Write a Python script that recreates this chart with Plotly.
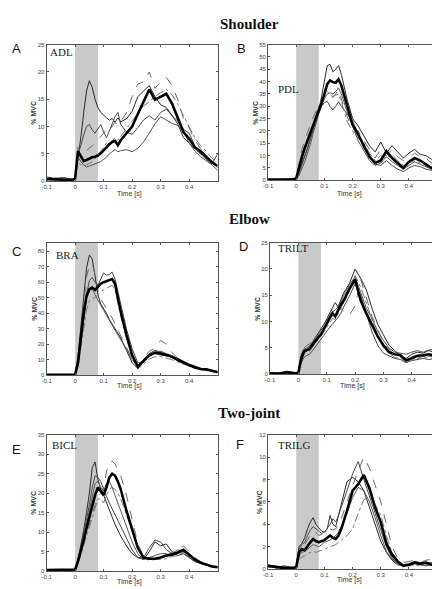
import plotly.graph_objects as go

# ---------------- data ----------------
T = [-0.10, -0.07, -0.04, -0.01, 0.00,
     0.01, 0.02, 0.03, 0.04, 0.05, 0.06, 0.07, 0.08, 0.09, 0.10, 0.11, 0.12, 0.13, 0.14, 0.15, 0.16,
     0.18, 0.20, 0.22, 0.24, 0.26, 0.28, 0.30, 0.32, 0.34, 0.36, 0.38, 0.40, 0.42, 0.44, 0.46, 0.48, 0.50]

X_TICKS = [-0.1, 0.0, 0.1, 0.2, 0.3, 0.4]
X_TICK_LABELS = ["-0.1", "0", "0.1", "0.2", "0.3", "0.4"]
PULSE = [0.0, 0.08]  # shaded interval (s)

SECTIONS = ["Shoulder", "Elbow", "Two-joint"]
LETTERS = ["A", "B", "C", "D", "E", "F"]
MUSCLES = ["ADL", "PDL", "BRA", "TRILT", "BICL", "TRILG"]
Y_MAX = [25, 55, 85.5, 25, 35, 12]
Y_STEP = [5, 5, 10, 5, 5, 2]
Y_TOP_TICK = [25, 55, 80, 25, 35, 12]

# --- A: ADL ---
ADL_mean = [0.4, 0.3, 0.2, 0.2, 0.5,
            5.5, 4.6, 3.7, 3.9, 4.2, 4.4, 4.5, 4.7, 5.1, 5.6, 6.2, 6.8, 7.2, 7.4, 6.6, 7.5,
            8.8, 10.0, 12.3, 14.4, 16.8, 14.9, 15.4, 16.0, 14.2, 11.5, 9.0, 7.8, 6.2, 5.5, 4.5, 3.5, 2.8]
ADL_s1 = [0.8, 0.5, 0.7, 0.3, 0.4,
          4.0, 8.0, 12.5, 16.5, 18.4, 17.2, 15.0, 13.5, 12.6, 12.0, 11.6, 11.2, 11.5, 10.8, 11.6, 10.9,
          11.4, 12.8, 15.5, 16.5, 17.5, 15.5, 14.0, 13.5, 12.0, 10.5, 8.0, 7.0, 6.0, 5.0, 4.5, 3.5, 2.5]
ADL_s2 = [0.3, 0.4, 0.2, 0.3, 0.5,
          6.2, 5.5, 5.2, 5.6, 6.0, 6.5, 7.0, 7.6, 8.0, 8.8, 9.5, 9.2, 10.0, 10.8, 10.2, 11.0,
          12.5, 15.5, 17.8, 18.2, 20.0, 17.0, 18.2, 19.0, 17.5, 15.0, 11.5, 9.8, 7.5, 6.0, 4.2, 3.0, 2.2]
ADL_s3 = [0.2, 0.6, 0.3, 0.4, 0.5,
          5.0, 6.5, 8.5, 10.0, 10.4, 9.4, 8.8, 9.6, 10.4, 9.0, 8.0, 9.2, 10.6, 11.8, 12.6, 10.4,
          9.0, 8.6, 9.8, 11.2, 12.0, 11.2, 12.6, 13.2, 12.0, 11.0, 9.5, 8.8, 6.5, 5.0, 4.0, 3.2, 5.0]
ADL_s4 = [0.5, 0.3, 0.4, 0.2, 0.3,
          3.5, 3.0, 2.8, 3.0, 3.3, 3.6, 4.2, 4.8, 5.6, 6.2, 7.0, 6.6, 7.4, 8.0, 7.5, 8.2,
          9.5, 11.0, 12.5, 13.8, 14.5, 15.5, 16.2, 16.8, 15.8, 14.2, 12.0, 10.0, 8.0, 6.5, 5.5, 4.2, 3.5]
ADL_s5 = [0.3, 0.2, 0.4, 0.3, 0.3,
          4.5, 3.6, 3.0, 2.6, 2.8, 3.0, 3.2, 3.4, 3.6, 4.0, 4.4, 5.0, 5.4, 5.8, 5.4, 5.6,
          5.8, 5.4, 6.0, 7.2, 8.8, 10.5, 11.8, 11.2, 10.6, 10.2, 9.2, 7.0, 5.5, 4.5, 3.8, 3.0, 2.0]

# --- B: PDL ---
PDL_mean = [0.3, 0.3, 0.2, 0.3, 0.8,
            5.5, 9.5, 13.0, 16.0, 19.0, 22.0, 25.0, 28.0, 31.5, 35.0, 39.0, 40.5, 39.8, 39.5, 41.0, 38.5,
            30.0, 22.5, 18.5, 14.0, 9.5, 7.0, 8.0, 11.8, 9.0, 7.0, 5.0, 7.5, 9.0, 8.0, 6.5, 5.0, 4.8]
PDL_s1 = [0.2, 0.3, 0.3, 0.2, 0.5,
          3.5, 7.0, 10.0, 13.0, 16.5, 20.0, 24.0, 28.0, 34.0, 40.5, 46.5, 47.0, 44.0, 45.0, 46.5, 43.0,
          33.0, 25.0, 22.0, 18.0, 14.0, 11.5, 15.5, 11.0, 14.0, 11.5, 9.0, 11.0, 12.5, 10.5, 10.0, 8.5, 7.5]
PDL_s2 = [0.3, 0.2, 0.4, 0.3, 1.0,
          7.0, 12.5, 16.0, 19.5, 22.5, 25.5, 28.0, 30.5, 33.0, 34.5, 35.5, 34.5, 33.5, 35.0, 36.8, 33.0,
          26.0, 21.0, 20.0, 16.0, 12.5, 9.0, 12.5, 10.0, 12.5, 9.5, 8.0, 9.0, 11.0, 9.5, 9.0, 7.0, 6.5]
PDL_s3 = [0.2, 0.3, 0.2, 0.2, 0.4,
          3.0, 6.0, 9.5, 13.0, 17.0, 21.0, 24.5, 27.5, 30.0, 31.5, 32.0, 30.0, 28.5, 30.0, 31.8, 30.0,
          27.0, 24.0, 19.0, 13.0, 10.0, 6.5, 6.0, 8.0, 6.0, 4.5, 3.5, 5.0, 6.0, 5.5, 4.5, 4.0, 3.0]
PDL_s4 = [0.3, 0.4, 0.3, 0.3, 0.7,
          5.0, 9.0, 12.5, 15.5, 19.0, 23.0, 27.0, 30.0, 32.5, 34.0, 36.0, 35.0, 34.0, 34.5, 35.0, 32.0,
          24.0, 20.0, 17.0, 15.0, 11.0, 8.0, 10.0, 9.0, 10.5, 8.0, 6.0, 7.0, 8.0, 7.0, 6.0, 5.0, 4.0]
PDL_s5 = [0.2, 0.2, 0.3, 0.2, 0.3,
          2.0, 4.5, 7.5, 11.0, 14.5, 19.0, 23.5, 27.0, 30.0, 33.0, 35.0, 35.5, 35.0, 36.0, 37.5, 35.0,
          28.0, 22.0, 16.0, 12.0, 8.0, 6.0, 7.0, 9.5, 7.5, 6.0, 4.5, 6.0, 7.5, 6.5, 5.5, 4.5, 3.5]

# --- C: BRA ---
BRA_mean = [0.3, 0.3, 0.3, 0.3, 0.5,
            8.0, 24.0, 40.0, 51.0, 55.5, 56.5, 55.0, 57.0, 59.0, 60.0, 60.5, 61.5, 62.0, 59.0, 50.0, 41.0,
            26.0, 13.0, 5.5, 9.5, 13.0, 14.5, 14.0, 13.0, 12.0, 10.0, 8.0, 6.5, 5.0, 4.0, 3.8, 3.0, 2.0]
BRA_s1 = [0.2, 0.3, 0.2, 0.2, 0.5,
          12.0, 32.0, 52.0, 69.0, 77.5, 75.0, 64.0, 52.0, 46.0, 43.0, 40.0, 36.0, 33.0, 30.0, 27.0, 24.0,
          16.0, 8.0, 4.5, 10.0, 14.0, 16.0, 15.0, 13.0, 11.0, 9.5, 7.5, 6.0, 5.0, 4.0, 3.5, 2.8, 2.0]
BRA_s2 = [0.3, 0.2, 0.3, 0.2, 0.4,
          10.0, 28.0, 47.0, 63.0, 71.0, 72.0, 65.0, 55.0, 49.0, 46.0, 43.0, 40.0, 37.0, 33.0, 29.0, 25.0,
          18.0, 11.0, 6.0, 11.0, 15.5, 17.5, 22.5, 20.0, 14.5, 11.0, 8.5, 6.5, 5.0, 4.5, 4.0, 3.0, 2.2]
BRA_s3 = [0.2, 0.2, 0.2, 0.3, 0.3,
          6.0, 20.0, 36.0, 52.0, 61.0, 63.0, 60.0, 58.0, 62.0, 66.0, 64.5, 65.0, 66.5, 62.0, 54.0, 46.0,
          30.0, 17.0, 8.0, 8.5, 12.0, 14.0, 13.0, 12.5, 12.0, 11.0, 9.0, 7.0, 6.0, 4.5, 4.0, 3.0, 2.0]
BRA_s4 = [0.3, 0.3, 0.2, 0.3, 0.4,
          5.0, 17.0, 31.0, 42.0, 48.0, 49.5, 50.0, 52.0, 54.0, 55.0, 56.0, 57.5, 58.0, 55.0, 46.0, 38.0,
          24.0, 12.0, 4.0, 7.0, 10.5, 12.0, 12.0, 11.0, 10.0, 8.5, 7.0, 5.5, 4.5, 3.5, 3.2, 2.5, 1.8]
BRA_s5 = [0.2, 0.3, 0.3, 0.2, 0.5,
          7.0, 22.0, 38.0, 50.0, 55.0, 55.5, 52.0, 48.0, 45.0, 42.0, 38.5, 35.0, 32.0, 29.0, 26.0, 23.0,
          17.0, 10.0, 6.0, 9.0, 12.5, 15.0, 15.5, 14.0, 12.5, 10.0, 8.5, 7.0, 5.5, 4.5, 3.5, 3.0, 2.5]

# --- D: TRILT ---
TRILT_mean = [0.2, 0.1, 0.4, 0.2, 0.3,
              3.0, 4.4, 4.6, 4.8, 5.6, 6.4, 7.0, 7.6, 8.6, 9.8, 10.8, 11.6, 11.0, 12.2, 13.2, 14.0,
              16.2, 18.0, 14.0, 11.5, 9.2, 7.2, 5.5, 4.2, 3.8, 3.6, 2.6, 3.0, 3.5, 3.6, 3.8, 3.5, 3.6]
TRILT_s1 = [0.3, 0.2, 0.5, 0.2, 0.3,
            2.5, 3.8, 4.5, 5.2, 6.0, 7.0, 7.8, 8.6, 9.5, 10.5, 11.6, 12.6, 13.6, 12.8, 14.2, 15.5,
            17.2, 20.0, 18.2, 16.0, 12.5, 9.5, 7.5, 5.5, 4.5, 3.5, 3.0, 3.8, 4.2, 4.0, 4.5, 4.2, 4.8]
TRILT_s2 = [0.2, 0.2, 0.3, 0.1, 0.3,
            3.5, 5.0, 5.5, 5.8, 6.5, 7.2, 7.6, 8.5, 9.2, 10.2, 11.0, 12.2, 12.8, 13.0, 12.5, 12.0,
            11.2, 13.0, 18.0, 14.5, 11.0, 8.5, 6.0, 4.8, 3.6, 3.2, 2.8, 3.2, 3.0, 3.4, 3.2, 3.0, 3.3]
TRILT_s3 = [0.1, 0.3, 0.2, 0.3, 0.2,
            2.2, 3.2, 3.6, 3.8, 4.5, 5.2, 5.8, 6.6, 7.4, 8.2, 8.8, 9.6, 10.2, 10.8, 11.6, 12.8,
            14.8, 17.2, 15.0, 11.5, 8.0, 5.5, 4.0, 3.5, 3.0, 2.8, 2.2, 2.6, 2.8, 3.0, 2.8, 3.0, 2.8]
TRILT_s4 = [0.2, 0.2, 0.3, 0.2, 0.3,
            3.0, 4.0, 4.2, 4.4, 5.2, 6.0, 6.6, 7.2, 8.0, 9.0, 9.8, 10.6, 10.4, 11.5, 12.4, 13.6,
            15.8, 18.8, 16.5, 13.5, 10.2, 7.2, 5.0, 4.0, 3.2, 3.0, 2.4, 2.8, 3.2, 3.0, 3.4, 3.2, 3.0]
TRILT_s5 = [0.3, 0.2, 0.2, 0.2, 0.4,
            3.8, 4.8, 5.0, 5.4, 6.2, 7.0, 7.8, 8.4, 9.0, 10.2, 11.0, 11.8, 12.2, 12.8, 13.8, 15.0,
            17.0, 18.5, 15.5, 12.5, 10.5, 8.2, 6.4, 5.0, 4.2, 4.0, 3.8, 4.2, 4.5, 4.2, 4.6, 4.8, 4.5]

# --- E: BICL ---
BICL_mean = [0.3, 0.3, 0.3, 0.3, 0.4,
             2.5, 5.0, 8.0, 11.0, 14.0, 17.0, 19.5, 21.5, 20.5, 19.5, 21.5, 24.0, 25.0, 24.5, 23.0, 21.0,
             15.5, 10.5, 6.0, 3.5, 3.2, 3.2, 3.5, 4.0, 4.3, 4.8, 5.5, 4.2, 3.0, 2.2, 1.6, 1.2, 1.0]
BICL_s1 = [0.2, 0.3, 0.2, 0.3, 0.5,
           3.0, 6.5, 10.5, 15.0, 20.0, 26.5, 28.0, 23.5, 21.0, 19.5, 17.5, 15.5, 13.5, 12.0, 10.5, 9.0,
           6.5, 4.5, 3.5, 3.0, 5.0, 7.5, 6.5, 7.0, 5.0, 4.0, 4.5, 3.5, 2.5, 2.0, 1.5, 1.2, 1.0]
BICL_s2 = [0.3, 0.2, 0.3, 0.2, 0.3,
           2.0, 4.5, 7.5, 10.0, 12.5, 15.0, 17.0, 19.0, 20.0, 21.5, 25.5, 27.8, 28.2, 27.5, 26.0, 24.5,
           19.5, 13.0, 7.0, 3.8, 3.5, 3.0, 3.2, 3.8, 5.0, 5.8, 6.5, 5.0, 3.5, 2.5, 1.8, 1.5, 1.2]
BICL_s3 = [0.3, 0.3, 0.2, 0.2, 0.5,
           3.0, 6.0, 9.5, 13.0, 17.0, 21.5, 24.5, 24.0, 23.0, 21.0, 19.0, 17.5, 16.0, 14.5, 13.0, 11.5,
           8.5, 5.5, 3.5, 3.5, 6.0, 8.0, 7.5, 5.5, 4.5, 5.5, 5.0, 3.5, 2.5, 2.0, 1.5, 1.2, 1.0]
BICL_s4 = [0.2, 0.2, 0.3, 0.2, 0.3,
           2.0, 4.0, 6.5, 9.0, 11.5, 14.0, 16.5, 18.5, 18.5, 17.5, 19.5, 21.0, 21.5, 21.0, 20.0, 18.5,
           14.5, 10.0, 6.0, 3.5, 2.8, 3.0, 3.0, 3.2, 3.8, 4.0, 4.8, 4.0, 2.8, 2.0, 1.5, 1.2, 0.9]
BICL_s5 = [0.3, 0.2, 0.2, 0.3, 0.4,
           2.5, 5.0, 8.5, 12.0, 15.5, 19.0, 22.5, 23.0, 21.5, 20.5, 22.5, 23.0, 21.5, 19.5, 17.5, 15.0,
           11.0, 7.5, 4.5, 3.0, 3.5, 4.0, 4.5, 4.5, 4.0, 4.5, 5.0, 4.5, 3.2, 2.2, 1.6, 1.3, 1.0]

# --- F: TRILG ---
TRILG_mean = [0.3, 0.2, 0.1, 0.1, 0.2,
              1.5, 1.8, 1.7, 2.1, 2.4, 2.7, 2.5, 2.4, 2.5, 2.6, 2.8, 3.0, 2.8, 2.7, 3.0, 3.6,
              5.2, 7.0, 7.6, 8.4, 7.2, 5.5, 4.2, 2.3, 1.3, 0.7, 0.3, 0.4, 0.6, 0.5, 0.6, 0.4, 0.5]
TRILG_s1 = [0.4, 0.2, 0.3, 0.1, 0.3,
            2.0, 2.3, 2.8, 3.6, 4.2, 4.6, 4.0, 3.7, 3.4, 3.3, 3.6, 4.8, 4.0, 3.8, 4.8, 5.8,
            7.8, 8.2, 7.8, 7.0, 5.5, 4.0, 2.5, 1.5, 0.8, 0.4, 0.3, 0.4, 0.5, 0.4, 0.3, 0.4, 0.3]
TRILG_s2 = [0.2, 0.3, 0.2, 0.1, 0.2,
            1.6, 2.0, 2.2, 2.6, 3.0, 3.4, 3.3, 3.0, 3.1, 3.2, 3.4, 3.6, 3.5, 3.6, 4.0, 4.5,
            6.0, 7.5, 8.8, 10.0, 9.0, 7.5, 6.0, 4.0, 2.0, 1.0, 0.6, 0.7, 0.8, 0.6, 0.8, 0.9, 0.7]
TRILG_s3 = [0.3, 0.1, 0.2, 0.2, 0.3,
            1.8, 2.2, 2.4, 3.0, 3.5, 3.8, 3.6, 3.4, 3.2, 3.3, 3.6, 4.0, 4.5, 4.2, 4.8, 5.5,
            7.0, 8.5, 9.6, 8.0, 6.5, 5.0, 3.5, 2.0, 1.0, 0.5, 0.4, 0.5, 0.7, 0.6, 0.5, 0.6, 0.6]
TRILG_s4 = [0.2, 0.2, 0.1, 0.1, 0.2,
            0.9, 1.1, 1.2, 1.4, 1.5, 1.6, 1.5, 1.6, 1.7, 1.8, 1.9, 2.0, 2.1, 2.2, 2.4, 2.6,
            3.0, 3.6, 5.0, 6.2, 6.4, 5.8, 4.8, 3.0, 1.5, 0.8, 0.4, 0.3, 0.4, 0.3, 0.4, 0.3, 0.4]
TRILG_s5 = [0.3, 0.2, 0.2, 0.1, 0.2,
            1.2, 1.5, 1.6, 1.8, 2.0, 2.2, 2.1, 2.0, 2.2, 2.4, 2.5, 2.6, 2.8, 3.0, 3.3, 3.8,
            5.0, 6.4, 7.3, 7.0, 6.0, 4.6, 3.0, 1.6, 0.9, 0.5, 0.3, 0.4, 0.5, 0.4, 0.5, 0.4, 0.5]

SERIES = [
    [ADL_s1, ADL_s2, ADL_s3, ADL_s4, ADL_s5, ADL_mean],
    [PDL_s1, PDL_s2, PDL_s3, PDL_s4, PDL_s5, PDL_mean],
    [BRA_s1, BRA_s2, BRA_s3, BRA_s4, BRA_s5, BRA_mean],
    [TRILT_s1, TRILT_s2, TRILT_s3, TRILT_s4, TRILT_s5, TRILT_mean],
    [BICL_s1, BICL_s2, BICL_s3, BICL_s4, BICL_s5, BICL_mean],
    [TRILG_s1, TRILG_s2, TRILG_s3, TRILG_s4, TRILG_s5, TRILG_mean],
]

# ---------------- layout / styles ----------------
W, H = 440, 589
OFF = 8  # page body margin: figure is drawn 8 px right/down of the window corner


def px(x):
    return (x - OFF) / W


def py(y):
    return 1 - (y - OFF) / H


# plot frames in window pixels: (left, right, top, bottom)
FRAMES = [(42, 215, 42, 180), (266, 437, 42, 179),
          (42, 215, 242, 376), (268, 440, 242, 375),
          (42, 215, 436, 574), (266, 437, 436, 572)]
SECTION_Y = [21, 218, 414]
LETTER_POS = [(12, 46), (239, 46), (12, 251), (241, 246), (12, 451), (238, 446)]
MUSCLE_POS = [(43, 49), (274, 87), (49, 255), (274, 247), (45, 446), (274, 446)]
YLAB_X = [29, 253, 30, 255, 29, 258]
XLAB_Y = [193, 193, 387, 387, 585, 583]

THIN_STYLES = [("#2a2a2a", "solid"), ("#6a6a6a", "dash"), ("#4a4a4a", "solid"),
               ("#7a7a7a", "dashdot"), ("#555555", "solid")]

fig = go.Figure()
annotations = []
shapes = []

for i in range(6):
    l, r, t, b = FRAMES[i]
    ax = "" if i == 0 else str(i + 1)
    xname, yname = "x" + ax, "y" + ax
    for k, ys in enumerate(SERIES[i]):
        if k < 5:
            col, dash = THIN_STYLES[k]
            line = dict(color=col, width=1, dash=dash)
        else:
            line = dict(color="black", width=2.6)
        fig.add_trace(go.Scatter(x=T, y=ys, mode="lines", line=line,
                                 xaxis=xname, yaxis=yname, showlegend=False,
                                 hoverinfo="skip"))
    common = dict(showline=True, linecolor="#555555", linewidth=1, mirror="allticks",
                  ticks="inside", ticklen=2, tickcolor="#555555", showgrid=False,
                  zeroline=False, tickfont=dict(size=6, color="#444444",
                                                family="Liberation Sans"))
    fig.layout["xaxis" + ax] = dict(domain=[px(l), px(r)], range=[-0.1, 0.5],
                                    anchor=yname, tickvals=X_TICKS,
                                    ticktext=X_TICK_LABELS, **common)
    yt = list(range(0, Y_TOP_TICK[i] + 1, Y_STEP[i]))
    fig.layout["yaxis" + ax] = dict(domain=[py(b), py(t)], range=[0, Y_MAX[i]],
                                    anchor=xname, tickvals=yt, **common)
    shapes.append(dict(type="rect", xref=xname, yref=yname + " domain",
                       x0=PULSE[0], x1=PULSE[1], y0=0, y1=1,
                       fillcolor="#c9c9c9", line=dict(width=0), layer="below"))
    lx, ly = LETTER_POS[i]
    annotations.append(dict(text=LETTERS[i], x=px(lx), y=py(ly), xref="paper",
                            yref="paper", showarrow=False, xanchor="center",
                            yanchor="middle",
                            font=dict(family="Liberation Sans", size=13, color="#111")))
    mx, my = MUSCLE_POS[i]
    annotations.append(dict(text=MUSCLES[i], x=px(mx), y=py(my), xref="paper",
                            yref="paper", showarrow=False, xanchor="left",
                            yanchor="middle",
                            font=dict(family="Liberation Serif", size=11, color="#222")))
    annotations.append(dict(text="<b>% MVC</b>", x=px(YLAB_X[i]), y=py((t + b) / 2),
                            xref="paper", yref="paper", showarrow=False,
                            textangle=-90, xanchor="center", yanchor="middle",
                            font=dict(family="Liberation Sans", size=7, color="#333")))
    annotations.append(dict(text="Time [s]", x=px(l + (r - l) * 0.5 - 3),
                            y=py(XLAB_Y[i]), xref="paper", yref="paper",
                            showarrow=False, xanchor="center", yanchor="middle",
                            font=dict(family="Liberation Sans", size=7, color="#333")))

for s, sy in zip(SECTIONS, SECTION_Y):
    annotations.append(dict(text="<b>" + s + "</b>", x=px(247), y=py(sy),
                            xref="paper", yref="paper", showarrow=False,
                            xanchor="center", yanchor="middle",
                            font=dict(family="Liberation Serif", size=15, color="#111")))

fig.update_layout(width=W, height=H, autosize=False,
                  margin=dict(l=0, r=0, t=0, b=0),
                  paper_bgcolor="white", plot_bgcolor="white",
                  annotations=annotations, shapes=shapes)

fig.write_html("out.html")
